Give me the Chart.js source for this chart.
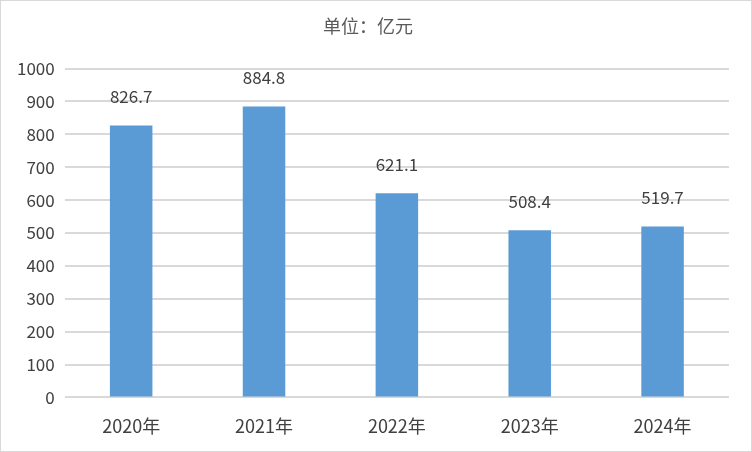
<!DOCTYPE html>
<html>
<head>
<meta charset="utf-8">
<script src="https://cdn.jsdelivr.net/npm/chart.js@4/dist/chart.umd.min.js"></script>
<style>
  html, body { margin: 0; padding: 0; background: #fff; }
  #wrap { width: 750px; height: 450px; border: 1px solid #d9d9d9; position: relative; }
</style>
</head>
<body>
<div id="wrap"><canvas id="chart" width="750" height="450"></canvas></div>
<script>
var years = ['2020年', '2021年', '2022年', '2023年', '2024年'];
var values = [826.7, 884.8, 621.1, 508.4, 519.7];
var yMin = 0, yMax = 1000, yStep = 100;

var fontFamily = '"Microsoft YaHei", "Noto Sans CJK SC", "DejaVu Sans", sans-serif';

// value labels above each bar
var valueLabels = {
    id: 'valueLabels',
    afterDatasetsDraw: function(chart) {
        var ctx = chart.ctx;
        var meta = chart.getDatasetMeta(0);
        ctx.save();
        ctx.font = '17px ' + fontFamily;
        ctx.fillStyle = '#404040';
        ctx.textAlign = 'center';
        ctx.textBaseline = 'middle';
        meta.data.forEach(function(bar, i) {
            ctx.fillText(values[i].toFixed(1), bar.x, bar.y - 29);
        });
        ctx.restore();
    }
};

new Chart(document.getElementById('chart'), {
    type: 'bar',
    data: {
        labels: years,
        datasets: [{
            data: values,
            backgroundColor: '#5b9bd5',
            categoryPercentage: 1,
            barPercentage: 0.32
        }]
    },
    options: {
        responsive: false,
        animation: false,
        layout: { padding: { left: 6, right: 22, top: 10, bottom: 4 } },
        plugins: {
            legend: { display: false },
            tooltip: { enabled: false },
            title: {
                display: true,
                text: '单位：亿元',
                color: '#595959',
                font: { family: fontFamily, size: 18, weight: 'normal' },
                padding: { top: 4, bottom: 32 }
            }
        },
        scales: {
            x: {
                grid: { display: false },
                border: { display: false },
                ticks: {
                    color: '#404040',
                    font: { family: fontFamily, size: 18 },
                    padding: 10
                }
            },
            y: {
                min: yMin,
                max: yMax,
                ticks: {
                    stepSize: yStep,
                    color: '#404040',
                    font: { family: fontFamily, size: 17 },
                    padding: 10,
                    callback: function(v) { return String(v); }
                },
                grid: { color: '#d9d9d9', lineWidth: 2, drawTicks: false },
                border: { display: false }
            }
        }
    },
    plugins: [valueLabels]
});
</script>
</body>
</html>
